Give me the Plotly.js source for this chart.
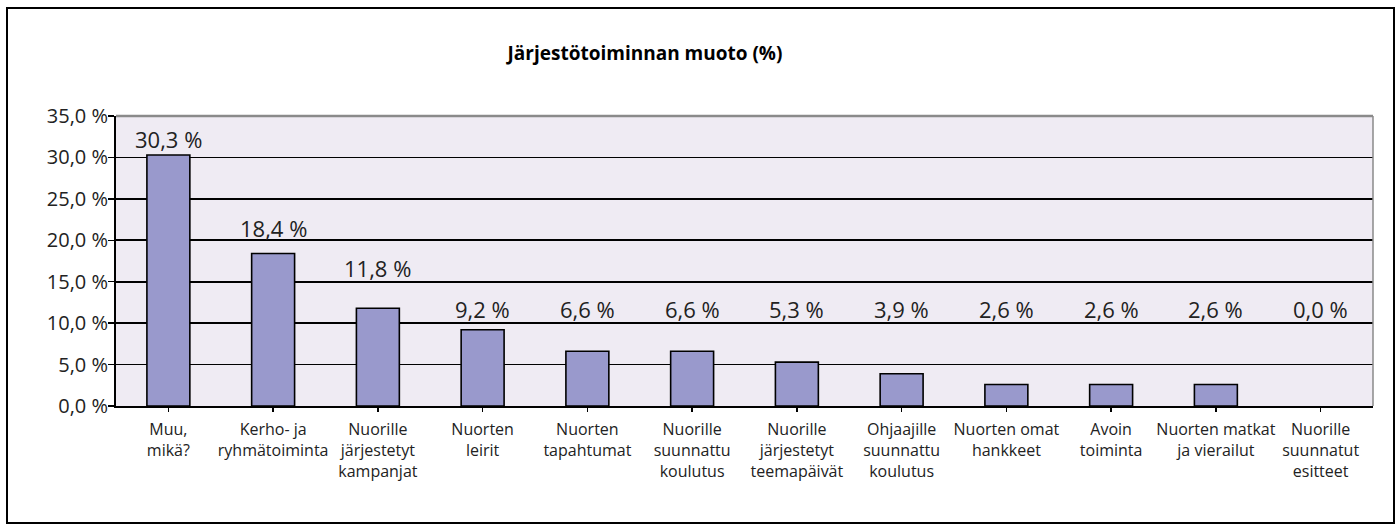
<!DOCTYPE html>
<html>
<head>
<meta charset="utf-8">
<script src="https://cdn.plot.ly/plotly-3.0.1.min.js"></script>
<style>
  html, body { margin: 0; padding: 0; background: #fff; }
  #wrap { position: relative; width: 1400px; height: 532px; }
  #chart { width: 1400px; height: 532px; }
  #frame { position: absolute; left: 6px; top: 7px; width: 1385px; height: 513px;
           border: 2px solid #000; pointer-events: none; }
</style>
</head>
<body>
<div id="wrap">
  <div id="chart"></div>
  <div id="frame"></div>
</div>
<script>
const categories = [
  "Muu,<br>mikä?",
  "Kerho- ja<br>ryhmätoiminta",
  "Nuorille<br>järjestetyt<br>kampanjat",
  "Nuorten<br>leirit",
  "Nuorten<br>tapahtumat",
  "Nuorille<br>suunnattu<br>koulutus",
  "Nuorille<br>järjestetyt<br>teemapäivät",
  "Ohjaajille<br>suunnattu<br>koulutus",
  "Nuorten omat<br>hankkeet",
  "Avoin<br>toiminta",
  "Nuorten matkat<br>ja vierailut",
  "Nuorille<br>suunnatut<br>esitteet"
];
const values = [30.3, 18.4, 11.8, 9.2, 6.6, 6.6, 5.3, 3.9, 2.6, 2.6, 2.6, 0.0];
const valueLabels = ["30,3 %", "18,4 %", "11,8 %", "9,2 %", "6,6 %", "6,6 %", "5,3 %", "3,9 %", "2,6 %", "2,6 %", "2,6 %", "0,0 %"];
const yTickVals = [0, 5, 10, 15, 20, 25, 30, 35];
const yTickText = ["0,0 %", "5,0 %", "10,0 %", "15,0 %", "20,0 %", "25,0 %", "30,0 %", "35,0 %"];
const chartTitle = "Järjestötoiminnan muoto (%)";

const FONT = "'Open Sans', 'Noto Sans', sans-serif";
const xIdx = categories.map((_, i) => i);

// Label placement as in the original (labels were hand-placed in the source chart):
// height of each label's centre, in axis units.
const labelCentre = [32.2, 21.5, 16.65, 11.7, 11.7, 11.7, 11.7, 11.7, 11.7, 11.7, 11.7, 11.7];
const annotations = values.map((v, i) => ({
  x: i, y: labelCentre[i], xref: 'x', yref: 'y',
  text: valueLabels[i], showarrow: false, yanchor: 'middle',
  font: { family: FONT, size: 22, color: '#222' }
}));

const trace = {
  type: 'bar',
  x: xIdx,
  y: values,
  marker: {
    color: '#9999cc',
    line: { color: '#000', width: values.map(v => v > 0 ? 1.6 : 0) }
  },
  hoverinfo: 'none'
};

const layout = {
  width: 1400, height: 532,
  margin: { l: 116, r: 27, t: 116, b: 126 },
  paper_bgcolor: '#ffffff',
  plot_bgcolor: '#efebf3',
  bargap: 0.59,
  showlegend: false,
  title: {
    text: '<b>' + chartTitle + '</b>',
    xref: 'container', yref: 'container',
    x: 645 / 1400, xanchor: 'center', y: 1 - 53 / 532, yanchor: 'middle',
    font: { family: FONT, size: 19, color: '#000' }
  },
  xaxis: {
    range: [-0.5, 11.5],
    tickvals: xIdx, ticktext: categories,
    tickson: 'boundaries',
    ticks: 'outside', ticklen: 4, tickwidth: 1.5, tickcolor: '#000',
    showgrid: false, zeroline: false,
    showline: true, linecolor: '#000', linewidth: 2,
    tickfont: { family: FONT, size: 16, color: '#222' },
    ticklabelstandoff: 4,
    tickangle: 0, fixedrange: true
  },
  yaxis: {
    range: [0, 35],
    tickvals: yTickVals, ticktext: yTickText,
    ticks: 'outside', ticklen: 6, tickwidth: 1.5, tickcolor: '#000',
    showgrid: true, gridcolor: '#000', gridwidth: 1.6,
    zeroline: false,
    showline: true, linecolor: '#000', linewidth: 2,
    tickfont: { family: FONT, size: 20, color: '#222' },
    ticklabelstandoff: -4, fixedrange: true
  },
  shapes: [
    { type: 'line', xref: 'paper', yref: 'paper', x0: 0, x1: 1, y0: 1, y1: 1,
      line: { color: '#8a8a8a', width: 2.5 }, layer: 'above' },
    { type: 'line', xref: 'paper', yref: 'paper', x0: 1, x1: 1, y0: 0, y1: 1,
      line: { color: '#8a8a8a', width: 1.5 }, layer: 'above' }
  ],
  annotations: annotations
};

Plotly.newPlot('chart', [trace], layout, { displayModeBar: false, staticPlot: true });
</script>
</body>
</html>
